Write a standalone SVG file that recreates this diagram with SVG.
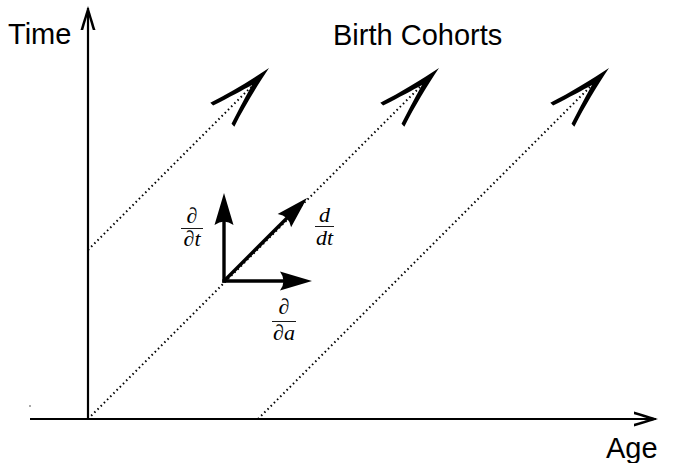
<svg xmlns="http://www.w3.org/2000/svg" width="679" height="463" viewBox="0 0 679 463">
<style>
.axis{stroke:#000;stroke-width:2.2;fill:none}
.cohort{stroke:#000;stroke-width:2;stroke-dasharray:1.5 3;fill:none}
.vec{stroke:#000;stroke-width:3.4;fill:none}
.lbl{font-family:"Liberation Sans",Arial,sans-serif;font-size:29px;fill:#000}
.math{font-family:"Liberation Serif","DejaVu Serif",serif;font-size:22px;fill:#000;text-anchor:middle}
.mi{font-style:italic}
.bar{stroke:#000;stroke-width:0.9}
</style>
<defs>
<path id="bigHead" d="M0,0 C-20,-4 -45,-10 -66,-17 L-66,-13 C-48,-7 -34,-3 -24,0 C-34,3 -48,7 -66,13 L-66,17 C-45,10 -20,4 0,0 Z" fill="#000"/>
<path id="axHead" d="M0,0 C-6,-2 -15,-4.8 -24,-7.5 L-24,-4.8 C-16,-2.4 -11,-1.1 -8,0 C-11,1.1 -16,2.4 -24,4.8 L-24,7.5 C-15,4.8 -6,2 0,0 Z" fill="#000"/>
<path id="vecHead" d="M0,0 L-32,-9.5 Q-25,0 -32,9.5 Z" fill="#000"/>
</defs>

<g id="axes">
<line class="axis" x1="30" y1="419" x2="656" y2="419"/>
<use href="#axHead" transform="translate(658,419)"/>
<line class="axis" x1="88" y1="420" x2="88" y2="8"/>
<use href="#axHead" transform="translate(88,6) rotate(-90)"/>
<rect x="29.5" y="405" width="1" height="2" fill="#555"/>
</g>

<g id="axis-labels">
<text id="time-label" class="lbl" x="8" y="44">Time</text>
<text id="age-label" class="lbl" x="606" y="458">Age</text>
<text id="cohorts-label" class="lbl" x="333" y="45">Birth Cohorts</text>
</g>

<g id="connectors">
<line class="cohort" x1="88" y1="250" x2="251" y2="87"/>
<line class="cohort" x1="88" y1="419" x2="421" y2="86"/>
<line class="cohort" x1="258" y1="419" x2="591" y2="86"/>
<use href="#bigHead" transform="translate(269,68) rotate(-45)"/>
<use href="#bigHead" transform="translate(439,68) rotate(-45)"/>
<use href="#bigHead" transform="translate(609,68) rotate(-45)"/>
</g>

<g id="vectors">
<line class="vec" x1="224" y1="282.7" x2="224" y2="215"/>
<use href="#vecHead" transform="translate(224,193) rotate(-90)"/>
<line class="vec" x1="222.3" y1="281" x2="290" y2="281"/>
<use href="#vecHead" transform="translate(312,281)"/>
<line class="vec" x1="224" y1="281" x2="291" y2="214"/>
<use href="#vecHead" transform="translate(307,198) rotate(-45)"/>
</g>

<g id="label-dt-partial">
<text class="math" x="192" y="223">∂</text>
<line class="bar" x1="181" y1="228.5" x2="203" y2="228.5"/>
<text class="math" x="192" y="246">∂<tspan class="mi">t</tspan></text>
</g>
<g id="label-total-d">
<text class="math mi" x="324.5" y="222">d</text>
<line class="bar" x1="315" y1="226.5" x2="334" y2="226.5"/>
<text class="math mi" x="324.5" y="245">dt</text>
</g>
<g id="label-da-partial">
<text class="math" x="284" y="314">∂</text>
<line class="bar" x1="272" y1="321.5" x2="296" y2="321.5"/>
<text class="math" x="284" y="340">∂<tspan class="mi">a</tspan></text>
</g>
</svg>
